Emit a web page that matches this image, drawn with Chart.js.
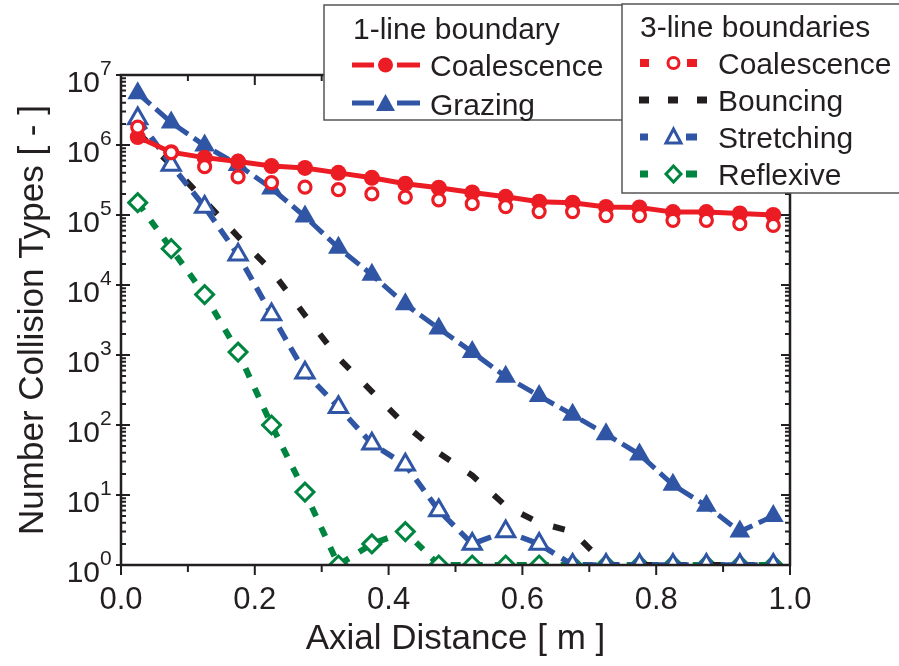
<!DOCTYPE html>
<html>
<head>
<meta charset="utf-8">
<title>Collision types along the axial distance</title>
<script src="https://cdn.jsdelivr.net/npm/chart.js@4.4.1/dist/chart.umd.min.js"></script>
<style>
  html, body { margin: 0; padding: 0; background: #fff; }
  #wrap { position: relative; width: 899px; height: 666px; overflow: hidden; }
  #legend { position: absolute; left: 0; top: 0; pointer-events: none; }
  #legend text { font-family: "Liberation Sans", Arial, sans-serif; font-size: 30px; fill: #231f20; }
</style>
</head>
<body>
<div id="wrap">
  <canvas id="collisionChart" width="899" height="666"></canvas>
  <svg id="legend" width="899" height="666">
    <!-- 1-line boundary box -->
    <rect x="324" y="5" width="299" height="115" fill="#fff" stroke="#555" stroke-width="1.5"/>
    <text x="353" y="39">1-line boundary</text>
    <line x1="352" y1="65" x2="374" y2="65" stroke="#ec1c24" stroke-width="5"/>
    <line x1="397" y1="65" x2="420" y2="65" stroke="#ec1c24" stroke-width="5"/>
    <circle cx="385.5" cy="65" r="7.5" fill="#ec1c24"/>
    <text x="430" y="76">Coalescence</text>
    <line x1="352" y1="103" x2="374" y2="103" stroke="#2f55a4" stroke-width="5"/>
    <line x1="397" y1="103" x2="420" y2="103" stroke="#2f55a4" stroke-width="5"/>
    <polygon points="385.5,94 395,111 376,111" fill="#2f55a4"/>
    <text x="430" y="115">Grazing</text>

    <!-- 3-line boundaries box -->
    <rect x="622" y="4" width="290" height="189" fill="#fff" stroke="#555" stroke-width="1.5"/>
    <text x="640" y="37">3-line boundaries</text>
    <line x1="640" y1="63" x2="649" y2="63" stroke="#ec1c24" stroke-width="8"/>
    <circle cx="673.5" cy="63" r="5.5" fill="#fff" stroke="#ec1c24" stroke-width="3"/>
    <line x1="687" y1="63" x2="697" y2="63" stroke="#ec1c24" stroke-width="8"/>
    <text x="718" y="74">Coalescence</text>
    <line x1="639" y1="100" x2="649" y2="100" stroke="#231f20" stroke-width="7"/>
    <line x1="668" y1="100" x2="678" y2="100" stroke="#231f20" stroke-width="7"/>
    <line x1="697" y1="100" x2="707" y2="100" stroke="#231f20" stroke-width="7"/>
    <text x="718" y="111">Bouncing</text>
    <line x1="640" y1="137" x2="648" y2="137" stroke="#2f55a4" stroke-width="7"/>
    <polygon points="673.5,129 681,143 666,143" fill="#fff" stroke="#2f55a4" stroke-width="3"/>
    <line x1="686" y1="137" x2="697" y2="137" stroke="#2f55a4" stroke-width="7"/>
    <text x="718" y="148">Stretching</text>
    <line x1="640" y1="174" x2="648" y2="174" stroke="#008540" stroke-width="7"/>
    <polygon points="673.5,166 681,174 673.5,182 666,174" fill="#fff" stroke="#008540" stroke-width="3"/>
    <line x1="686" y1="174" x2="697" y2="174" stroke="#008540" stroke-width="7"/>
    <text x="718" y="185">Reflexive</text>
  </svg>
</div>
<script>
// axial positions of the sampling planes [m]
var distance = [0.025, 0.075, 0.125, 0.175, 0.225, 0.275, 0.325, 0.375, 0.425, 0.475,
                0.525, 0.575, 0.625, 0.675, 0.725, 0.775, 0.825, 0.875, 0.925, 0.975];

// 1-line boundary
var coalescence1 = [1.3e6, 7.9e5, 6.6e5, 5.8e5, 5.0e5, 4.7e5, 4.0e5, 3.4e5, 2.8e5, 2.45e5,
                    2.1e5, 1.82e5, 1.55e5, 1.5e5, 1.3e5, 1.28e5, 1.1e5, 1.1e5, 1.05e5, 1.0e5];
var grazing = [5.5e6, 2.1e6, 9.8e5, 5.2e5, 2.4e5, 9.5e4, 3.4e4, 1.4e4, 5.3e3, 2.4e3,
               1.1e3, 490, 260, 140, 74, 38, 14, 7, 3, 5];

// 3-line boundaries
var coalescence3 = [1.8e6, 7.8e5, 4.9e5, 3.5e5, 2.9e5, 2.5e5, 2.3e5, 2.0e5, 1.8e5, 1.65e5,
                    1.45e5, 1.32e5, 1.12e5, 1.12e5, 9.8e4, 9.8e4, 8.4e4, 8.4e4, 7.5e4, 7.1e4];
var bouncing = [1.5e6, 5.2e5, 1.6e5, 4.9e4, 1.6e4, 3.7e3, 910, 300, 100, 40,
                19, 7, 4, 3, 1, 1, 1, 1, 1, 1];
var stretching = [2.4e6, 5.2e5, 1.3e5, 2.7e4, 3.8e3, 560, 180, 54, 27, 6,
                  2, 3, 2, 1, 1, 1, 1, 1, 1, 1];
var reflexive = [1.5e5, 3.3e4, 7.3e3, 1.1e3, 100, 11, 1, 2, 3, 1,
                 1, 1, 1, 1, 1, 1, 1, 1, 1, 1];

// axis ticks
var xMajorTicks = [0, 0.2, 0.4, 0.6, 0.8, 1.0];
var xMinorTicks = [0.1, 0.3, 0.5, 0.7, 0.9];
var yExponents = [0, 1, 2, 3, 4, 5, 6, 7];

var ink = '#231f20';
var red = '#ec1c24', blue = '#2f55a4', green = '#008540';
var fontFamily = '"Liberation Sans", Arial, sans-serif';

function points(values) {
    return values.map(function(v, i) { return { x: distance[i], y: v }; });
}

// frame, inward/outward tick marks and 10^n labels
var frameAndTicks = {
    id: 'frameAndTicks',
    afterDraw: function(chart) {
        var ctx = chart.ctx, a = chart.chartArea;
        var xs = chart.scales.x, ys = chart.scales.y;
        ctx.save();
        ctx.strokeStyle = ink;
        ctx.lineWidth = 2.5;
        ctx.strokeRect(a.left, a.top, a.right - a.left, a.bottom - a.top);

        ctx.lineWidth = 2;
        ctx.beginPath();
        xMajorTicks.forEach(function(v) {
            var px = xs.getPixelForValue(v);
            ctx.moveTo(px, a.bottom); ctx.lineTo(px, a.bottom + 10);
            ctx.moveTo(px, a.top); ctx.lineTo(px, a.top + 10);
        });
        xMinorTicks.forEach(function(v) {
            var px = xs.getPixelForValue(v);
            ctx.moveTo(px, a.bottom); ctx.lineTo(px, a.bottom + 7);
            ctx.moveTo(px, a.top); ctx.lineTo(px, a.top + 6);
        });
        yExponents.forEach(function(e) {
            var py = ys.getPixelForValue(Math.pow(10, e));
            ctx.moveTo(a.left - 5, py); ctx.lineTo(a.left + 9, py);
            ctx.moveTo(a.right, py); ctx.lineTo(a.right - 9, py);
            if (e < 7) {
                for (var m = 2; m <= 9; m++) {
                    var pm = ys.getPixelForValue(m * Math.pow(10, e));
                    ctx.moveTo(a.left, pm); ctx.lineTo(a.left + 5, pm);
                    ctx.moveTo(a.right, pm); ctx.lineTo(a.right - 5, pm);
                }
            }
        });
        ctx.stroke();

        ctx.fillStyle = ink;
        ctx.textBaseline = 'alphabetic';
        yExponents.forEach(function(e) {
            var py = ys.getPixelForValue(Math.pow(10, e));
            ctx.font = '30px ' + fontFamily;
            ctx.textAlign = 'right';
            ctx.fillText('10', a.left - 21, py + 17);
            ctx.font = '21px ' + fontFamily;
            ctx.textAlign = 'left';
            ctx.fillText(String(e), a.left - 21, py);
        });
        ctx.restore();
    }
};

var ctx = document.getElementById('collisionChart').getContext('2d');
var collisionChart = new Chart(ctx, {
    type: 'line',
    data: {
        datasets: [{
            label: 'Coalescence (3-line)',
            data: points(coalescence3),
            order: 0,
            borderColor: red,
            borderWidth: 5,
            pointStyle: 'circle',
            pointRadius: 6,
            pointBorderWidth: 3.2,
            pointBorderColor: red,
            pointBackgroundColor: '#fff',
            showLine: false
        }, {
            label: 'Coalescence (1-line)',
            data: points(coalescence1),
            order: 1,
            borderColor: red,
            borderWidth: 5,
            pointStyle: 'circle',
            pointRadius: 8,
            pointBorderWidth: 0,
            pointBackgroundColor: red
        }, {
            label: 'Grazing',
            data: points(grazing),
            order: 2,
            borderColor: blue,
            borderWidth: 5,
            borderDash: [17, 7],
            pointStyle: 'triangle',
            pointRadius: 12,
            pointBorderWidth: 0,
            pointBackgroundColor: blue
        }, {
            label: 'Stretching',
            data: points(stretching),
            order: 3,
            borderColor: blue,
            borderWidth: 5.5,
            borderDash: [14, 9],
            pointStyle: 'triangle',
            pointRadius: 10.5,
            pointBorderWidth: 3,
            pointBorderColor: blue,
            pointBackgroundColor: '#fff'
        }, {
            label: 'Bouncing',
            data: points(bouncing),
            order: 4,
            borderColor: ink,
            borderWidth: 6,
            borderDash: [12, 22],
            pointRadius: 0
        }, {
            label: 'Reflexive',
            data: points(reflexive),
            order: 5,
            borderColor: green,
            borderWidth: 6,
            borderDash: [10, 12],
            pointStyle: 'rectRot',
            pointRadius: 9,
            pointBorderWidth: 3,
            pointBorderColor: green,
            pointBackgroundColor: '#fff'
        }]
    },
    options: {
        responsive: false,
        animation: false,
        clip: 1,
        layout: { padding: { top: 75, right: 109, left: 0, bottom: 0 } },
        plugins: { legend: { display: false }, tooltip: { enabled: false } },
        elements: { line: { tension: 0, borderCapStyle: 'butt' } },
        scales: {
            x: {
                type: 'linear',
                min: 0,
                max: 1,
                grid: { display: false, drawTicks: false },
                border: { display: false },
                ticks: {
                    stepSize: 0.2,
                    padding: 17,
                    color: ink,
                    font: { family: fontFamily, size: 31 },
                    callback: function(v) { return v.toFixed(1); }
                },
                title: {
                    display: true,
                    text: 'Axial Distance [ m ]',
                    color: ink,
                    font: { family: fontFamily, size: 35 },
                    padding: { top: 0, bottom: 6 }
                },
                afterFit: function(scale) { scale.height = 101; }
            },
            y: {
                type: 'logarithmic',
                min: 1,
                max: 1e7,
                grid: { display: false, drawTicks: false },
                border: { display: false },
                ticks: { display: false },
                title: {
                    display: true,
                    text: 'Number Collision Types [ - ]',
                    color: ink,
                    font: { family: fontFamily, size: 35 },
                    padding: { top: 12, bottom: 0 }
                },
                afterFit: function(scale) { scale.width = 121; }
            }
        }
    },
    plugins: [frameAndTicks]
});
</script>
</body>
</html>
